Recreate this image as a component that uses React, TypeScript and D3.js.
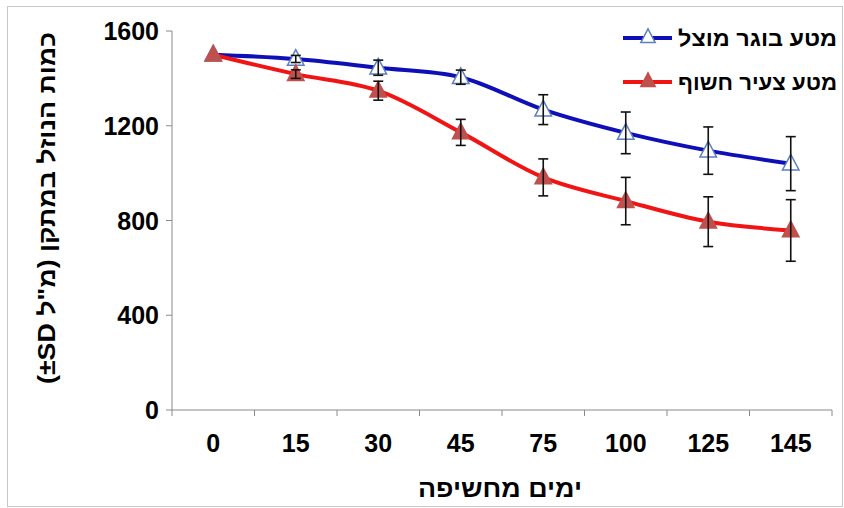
import React from "react";
import * as d3 from "d3";

const categories = ["0", "15", "30", "45", "75", "100", "125", "145"];
const shadedMean = [1500, 1482, 1445, 1405, 1268, 1170, 1095, 1040];
const shadedSD = [0, 15, 32, 30, 63, 88, 100, 114];
const exposedMean = [1500, 1418, 1348, 1172, 982, 882, 795, 758];
const exposedSD = [0, 18, 40, 55, 78, 100, 105, 130];
const yTicks = [0, 400, 800, 1200, 1600];
const seriesNames = ["מטע בוגר מוצל", "מטע צעיר חשוף"];
const yTitle = "כמות הנוזל במתקן (מ\"ל \u200E±SD)";
const xTitle = "ימים מחשיפה";

const W = 844;
const H = 508;
const FONT = "'Liberation Sans', Arial, sans-serif";

export default function App() {
  const x = d3.scaleBand<string>().domain(categories).range([172, 832]).padding(0);
  const y = d3.scaleLinear().domain([0, 1600]).range([410, 31]);
  const cx = (c: string) => (x(c) as number) + x.bandwidth() / 2;

  const line = d3
    .line<[number, number]>()
    .x((d) => d[0])
    .y((d) => d[1])
    .curve(d3.curveCatmullRom.alpha(0.5));

  const series = [
    { name: seriesNames[0], mean: shadedMean, sd: shadedSD, color: "#0f0fb8", markerFill: "#ffffff", markerStroke: "#5b7fc0" },
    { name: seriesNames[1], mean: exposedMean, sd: exposedSD, color: "#f01414", markerFill: "#c0504d", markerStroke: "#c0504d" },
  ];

  const tri = (px: number, py: number, s: number) =>
    `M${px},${py - s * 0.62} L${px + s * 0.55},${py + s * 0.42} L${px - s * 0.55},${py + s * 0.42} Z`;

  const axisColor = "#8a8a8a";

  return (
    <svg width={W} height={H} style={{ position: "absolute", left: 0, top: 0, background: "#fff" }} fontFamily={FONT}>
      <rect x={7.5} y={6.5} width={835} height={500} fill="#fff" stroke="#c8c8c8" strokeWidth={1} />

      {/* y axis */}
      <line x1={172} x2={172} y1={y(1600)} y2={y(0)} stroke={axisColor} strokeWidth={1} />
      {yTicks.map((t) => (
        <g key={t}>
          <line x1={166} x2={172} y1={y(t)} y2={y(t)} stroke={axisColor} />
          <text x={159} y={y(t)} dy="0.36em" textAnchor="end" fontSize={25} fontWeight="bold" fill="#000">
            {t}
          </text>
        </g>
      ))}

      {/* x axis */}
      <line x1={172} x2={832} y1={y(0)} y2={y(0)} stroke={axisColor} strokeWidth={1} />
      {categories.map((c, i) => (
        <g key={c}>
          <line x1={x(c) as number} x2={x(c) as number} y1={y(0)} y2={y(0) + 6} stroke={axisColor} />
          {i === categories.length - 1 && (
            <line x1={(x(c) as number) + x.bandwidth()} x2={(x(c) as number) + x.bandwidth()} y1={y(0)} y2={y(0) + 6} stroke={axisColor} />
          )}
          <text x={cx(c)} y={452} textAnchor="middle" fontSize={25} fontWeight="bold" fill="#000">
            {c}
          </text>
        </g>
      ))}

      {/* axis titles */}
      <text x={582} y={497} textAnchor="start" fontSize={24} fontWeight="bold" direction="rtl" fill="#000"
        textLength={164} lengthAdjust="spacingAndGlyphs">
        {xTitle}
      </text>
      <text
        transform={`translate(55,384) rotate(-90)`}
        textAnchor="end"
        fontSize={23}
        fontWeight="bold"
        direction="rtl"
        fill="#000"
        textLength={352}
        lengthAdjust="spacingAndGlyphs"
      >
        {yTitle}
      </text>

      {/* series */}
      {series.map((s) => {
        const pts: [number, number][] = categories.map((c, i) => [cx(c), y(s.mean[i])]);
        return (
          <g key={s.name}>
            <path d={line(pts) || ""} fill="none" stroke={s.color} strokeWidth={4} strokeLinejoin="round" />
          </g>
        );
      })}
      {series.map((s) => (
        <g key={s.name + "m"}>
          {categories.map((c, i) => (
            <path key={c} d={tri(cx(c), y(s.mean[i]), 15)} fill={s.markerFill} stroke={s.markerStroke} strokeWidth={1.5} />
          ))}
        </g>
      ))}
      {series.map((s) => (
        <g key={s.name + "e"}>
          {categories.map((c, i) =>
            s.sd[i] > 0 ? (
              <g key={c} stroke="#111" strokeWidth={1.6}>
                <line x1={cx(c)} x2={cx(c)} y1={y(s.mean[i] + s.sd[i])} y2={y(s.mean[i] - s.sd[i])} />
                <line x1={cx(c) - 5} x2={cx(c) + 5} y1={y(s.mean[i] + s.sd[i])} y2={y(s.mean[i] + s.sd[i])} />
                <line x1={cx(c) - 5} x2={cx(c) + 5} y1={y(s.mean[i] - s.sd[i])} y2={y(s.mean[i] - s.sd[i])} />
              </g>
            ) : null
          )}
        </g>
      ))}

      {/* legend */}
      {series.map((s, i) => {
        const ly = 38 + i * 44;
        return (
          <g key={s.name + "l"}>
            <line x1={623} x2={672} y1={ly} y2={ly} stroke={s.color} strokeWidth={4} />
            <path d={tri(648, ly - 1, 13)} fill={s.markerFill} stroke={s.markerStroke} strokeWidth={1.5} />
            <text x={837} y={ly} dy="0.36em" textAnchor="start" direction="rtl" fontSize={22} fontWeight="bold" fill="#000"
              textLength={159} lengthAdjust="spacingAndGlyphs">
              {s.name}
            </text>
          </g>
        );
      })}
    </svg>
  );
}
